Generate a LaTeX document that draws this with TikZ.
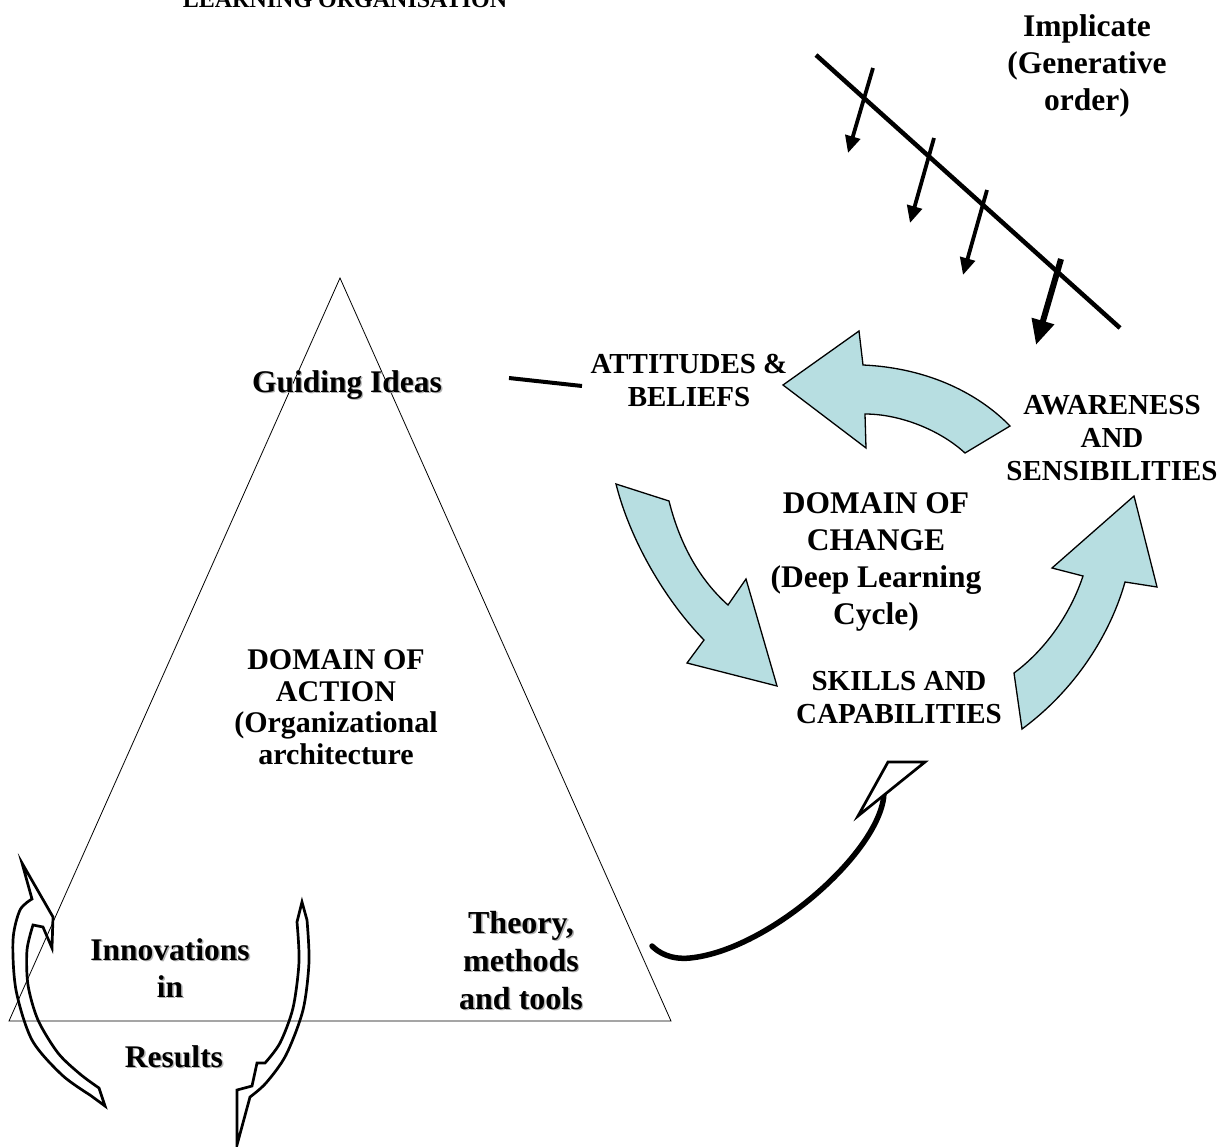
\documentclass[tikz,border=0pt]{standalone}
\usepackage{fontspec}
\setmainfont{Liberation Serif}
\usetikzlibrary{arrows.meta}
\definecolor{cyclefill}{RGB}{183,222,225}
% bold text with a soft grey drop shadow
\newcommand\shadowed[1]{\leavevmode\rlap{\kern1.4pt\raisebox{-1.4pt}{\textcolor{black!30}{#1}}}#1}
\begin{document}
\begin{tikzpicture}[x=1pt,y=-1pt,
  lbl/.style={font=\bfseries\fontsize{31.5}{37}\selectfont, align=center, anchor=base, inner sep=0pt},
  cyclelbl/.style={font=\bfseries\fontsize{29}{33}\selectfont, align=center, anchor=base, inner sep=0pt},
  cyclearrow/.style={fill=cyclefill, draw=black, line width=1.3pt, line join=miter},
  hollow/.style={draw=black, line width=2.7pt, line join=miter},
  downarrow/.style={line width=3.8pt, -{Triangle[length=17pt,width=15pt]}},
  bigdownarrow/.style={line width=6pt, -{Triangle[length=25pt,width=22pt]}}]
\clip (0,0) rectangle (1229,1146);

% domain of action
\draw[line width=0.8pt] (340,278) -- (9,1021) -- (671,1021) -- cycle;

% implicate order with its downward arrows
\draw[line width=4.5pt] (816,55) -- (1120,328);
\draw[downarrow] (873,68) -- (848,153);
\draw[downarrow] (934,138) -- (910,223);
\draw[downarrow] (987,190) -- (963,275);
\draw[bigdownarrow] (1061,259) -- (1036,345);

% texts (multi-line nodes are placed by the baseline of their last line)
\node[font=\bfseries\fontsize{24}{28}\selectfont, anchor=base, inner sep=0pt] (title) at (345,7) {LEARNING ORGANISATION};
\node[lbl] (implicate) at (1087,110) {Implicate\\(Generative\\order)};
\node[lbl] (guiding) at (347,392) {\shadowed{Guiding Ideas}};
\node[cyclelbl] (attitudes) at (689,406) {ATTITUDES \&\\BELIEFS};
\node[cyclelbl] (awareness) at (1112,480) {AWARENESS\\AND\\SENSIBILITIES};
\node[lbl] (change) at (876,624) {DOMAIN OF\\CHANGE\\(Deep Learning\\Cycle)};
\node[cyclelbl] (skills) at (899,723) {SKILLS AND\\CAPABILITIES};
\node[lbl, font=\bfseries\fontsize{30}{31.5}\selectfont] (action) at (336,764) {DOMAIN OF\\ACTION\\(Organizational\\architecture};
\node[lbl, font=\bfseries\fontsize{32}{38}\selectfont] (theory) at (521,1009) {\shadowed{Theory,}\\\shadowed{methods}\\\shadowed{and tools}};
\node[lbl] (innov) at (170,997) {\shadowed{Innovations}\\\shadowed{in}};
\node[lbl] (results) at (174,1067) {\shadowed{Results}};

% link between guiding ideas and attitudes
\coordinate (gl) at (509,378);
\coordinate (gr) at (582,386);
\draw[line width=4pt] (gl) -- (gr);

% deep learning cycle arrows
\draw[cyclearrow] (783,385) -- (859,331) -- (863,365)
  .. controls (930,368) and (980,395) .. (1010,426) -- (965,453)
  .. controls (940,430) and (900,414) .. (865,414) -- (866,448) -- cycle;
\draw[cyclearrow] (616,484) -- (669,501)
  .. controls (680,545) and (700,580) .. (728,605) -- (746,579) -- (777,686)
  -- (687,663) -- (704,640) .. controls (665,600) and (630,540) .. (616,484) -- cycle;
\draw[cyclearrow] (1014,673) -- (1022,729)
  .. controls (1075,690) and (1110,635) .. (1125,582) -- (1157,587) -- (1134,496)
  -- (1052,568) -- (1083,576) .. controls (1070,615) and (1045,650) .. (1014,673) -- cycle;

% swoosh from theory to skills
\draw[line width=5.5pt, line cap=round] (884,793) .. controls (882,850) and (770,950) .. (690,958)
  .. controls (670,960) and (658,952) .. (652,946);
\draw[hollow, fill=white] (888,762) -- (925,762) -- (858,816) -- cycle;

% innovation / results loop
\draw[hollow] (22,863) -- (53,917) -- (52,948) -- (43,927)
  -- plot[smooth] coordinates {(33,925) (27,950) (28,985) (38,1020) (58,1053) (80,1074) (99,1088)}
  -- (105,1106)
  -- plot[smooth] coordinates {(90,1095) (62,1075) (32,1040) (16,990) (13,940) (20,910) (32,899)}
  -- cycle;
\draw[hollow] (302,902)
  -- plot[smooth] coordinates {(307,920) (309,962) (303,1010) (286,1055) (266,1083) (250,1097)}
  -- (237,1145) -- (237,1090) -- (252,1086) -- (257,1063)
  -- plot[smooth] coordinates {(265,1063) (280,1043) (293,1008) (299,962) (297,922)}
  -- cycle;
\end{tikzpicture}
\end{document}
